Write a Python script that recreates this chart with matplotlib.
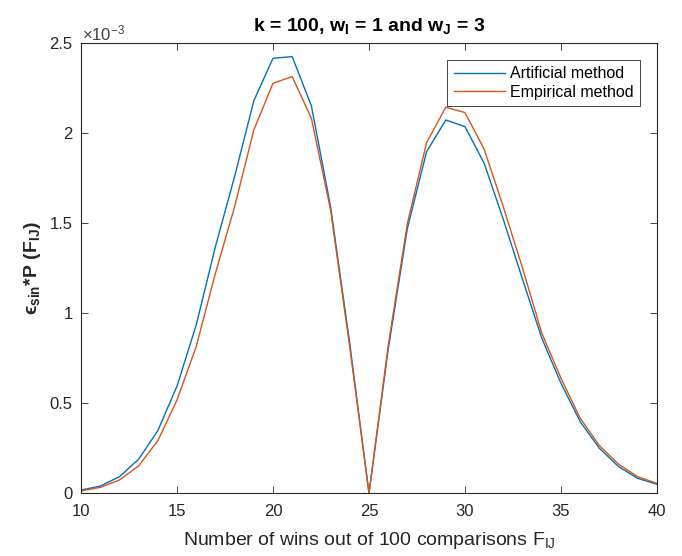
import matplotlib
matplotlib.use("Agg")
import matplotlib.pyplot as plt
from matplotlib.ticker import FuncFormatter

plt.rcParams['font.family'] = ['Liberation Sans', 'DejaVu Sans']
plt.rcParams['mathtext.fontset'] = 'custom'
plt.rcParams['mathtext.rm'] = 'Liberation Sans'
plt.rcParams['mathtext.it'] = 'Liberation Sans:italic'
plt.rcParams['mathtext.bf'] = 'Liberation Sans:bold'
plt.rcParams['mathtext.fallback'] = 'stixsans'

# Data
wins = list(range(10, 41))
artificial = [0.018, 0.040, 0.092, 0.189, 0.348, 0.595, 0.935, 1.370, 1.760, 2.180,
              2.417, 2.426, 2.152, 1.592, 0.830, 0.0, 0.800, 1.472, 1.898, 2.074,
              2.037, 1.833, 1.520, 1.188, 0.861, 0.611, 0.398, 0.250, 0.148, 0.083,
              0.050]
empirical = [0.013, 0.033, 0.074, 0.152, 0.292, 0.518, 0.815, 1.222, 1.592, 2.018,
             2.278, 2.315, 2.083, 1.574, 0.810, 0.0, 0.820, 1.500, 1.948, 2.145,
             2.115, 1.911, 1.590, 1.250, 0.889, 0.639, 0.417, 0.265, 0.161, 0.092,
             0.055]
scale = 1e-3
artificial = [v * scale for v in artificial]
empirical = [v * scale for v in empirical]
xticks = [10, 15, 20, 25, 30, 35, 40]
yticks = [0, 0.5e-3, 1e-3, 1.5e-3, 2e-3, 2.5e-3]

axc = '#262626'
fig = plt.figure(figsize=(6.82, 5.56), dpi=100)
ax = fig.add_axes([81/682, 1 - 493.3/556, (657-81)/682, (493.3-43.3)/556])

ax.plot(wins, artificial, color='#0072BD', lw=1.0, label='Artificial method')
ax.plot(wins, empirical, color='#D95319', lw=1.0, label='Empirical method')

ax.set_xlim(10, 40)
ax.set_ylim(0, 2.5e-3)
ax.set_xticks(xticks)
ax.set_yticks(yticks)
ax.yaxis.set_major_formatter(FuncFormatter(lambda v, p: f'{v/scale:g}'))

for s in ax.spines.values():
    s.set_color(axc)
    s.set_linewidth(0.8)
ax.tick_params(direction='in', length=5, width=0.6, colors=axc, labelsize=12,
               top=True, right=True)
ax.tick_params(axis='x', pad=8)
ax.tick_params(axis='y', pad=6)

ax.text(0.002, 1.0, '×10$^{\\mathregular{-3}}$', transform=ax.transAxes,
        fontsize=12, color='#404040', ha='left', va='bottom')

ax.set_title(r'k = 100, w$_\mathbf{I}$ = 1 and w$_\mathbf{J}$ = 3',
             fontsize=14, fontweight='bold', pad=9)
ax.set_xlabel(r'Number of wins out of 100 comparisons F$_{\mathregular{IJ}}$',
              fontsize=14, color=axc)
ax.xaxis.set_label_coords(0.5, -0.082)
ax.set_ylabel('$\\mathbf{\u03f5_{sin}}$*P (F$_{\\mathbf{IJ}}$)',
              fontsize=14, fontweight='bold', color=axc)
ax.yaxis.set_label_coords(-0.066, 0.5)

leg = ax.legend(loc='upper right', fontsize=11.5, fancybox=False, framealpha=1,
                edgecolor=axc, borderaxespad=1.05, handlelength=3.25,
                handletextpad=0.3, borderpad=0.4, labelspacing=0.2)
leg.get_frame().set_linewidth(0.6)

fig.savefig('out.png', dpi=100)
